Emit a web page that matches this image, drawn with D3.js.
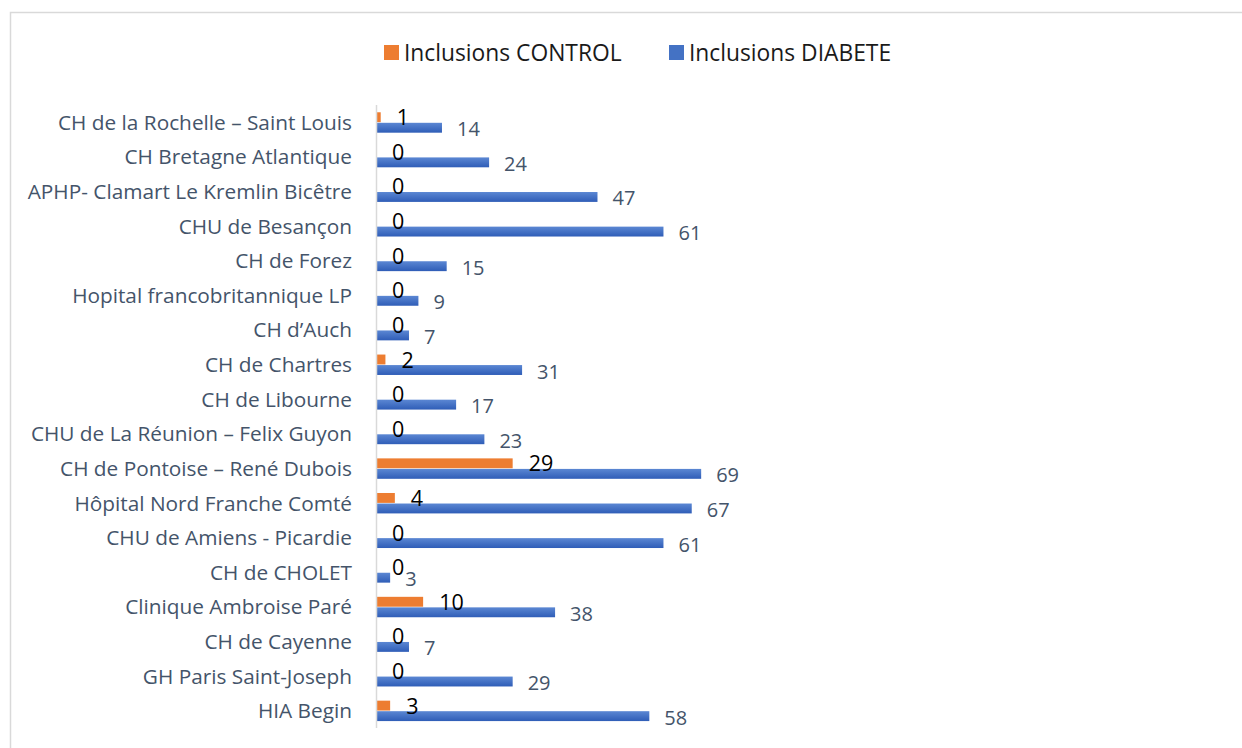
<!DOCTYPE html>
<html lang="fr">
<head>
<meta charset="UTF-8">
<title>Inclusions par centre</title>
<script src="https://d3js.org/d3.v7.min.js"></script>
<style>
  body { margin: 0; background: #fff; }
  svg { display: block; font-family: "Open Sans", "Noto Sans", sans-serif; }
</style>
</head>
<body>
<svg width="1242" height="748"></svg>
<script>
// données, de haut en bas
const centres = [
  "CH de la Rochelle – Saint Louis",
  "CH Bretagne Atlantique",
  "APHP- Clamart Le Kremlin Bicêtre",
  "CHU de Besançon",
  "CH de Forez",
  "Hopital francobritannique LP",
  "CH d’Auch",
  "CH de Chartres",
  "CH de Libourne",
  "CHU de La Réunion – Felix Guyon",
  "CH de Pontoise – René Dubois",
  "Hôpital Nord Franche Comté",
  "CHU de Amiens - Picardie",
  "CH de CHOLET",
  "Clinique Ambroise Paré",
  "CH de Cayenne",
  "GH Paris Saint-Joseph",
  "HIA Begin"
];
const inclusionsControl = [1, 0, 0, 0, 0, 0, 0, 2, 0, 0, 29, 4, 0, 0, 10, 0, 0, 3];
const inclusionsDiabete = [14, 24, 47, 61, 15, 9, 7, 31, 17, 23, 69, 67, 61, 3, 38, 7, 29, 58];
const seriesNames = ["Inclusions CONTROL", "Inclusions DIABETE"];
const seriesColors = ["#ed7d31", "#4472c4"];

const svg = d3.select("svg");

// cadre du graphique (dépasse à droite et en bas)
svg.append("rect")
  .attr("x", 10.5).attr("y", 12.5)
  .attr("width", 1240).attr("height", 740)
  .attr("fill", "none").attr("stroke", "#d9d9d9").attr("stroke-width", 1.5);

const defs = svg.append("defs");
const grad = defs.append("linearGradient")
  .attr("id", "bleu").attr("x1", 0).attr("y1", 0).attr("x2", 0).attr("y2", 1);
grad.append("stop").attr("offset", "0%").attr("stop-color", "#5b87d3");
grad.append("stop").attr("offset", "100%").attr("stop-color", "#2f5db7");

const x0 = 376;
const x = d3.scaleLinear().domain([0, 80]).range([x0, x0 + 377]);
const y = d3.scaleBand().domain(centres).range([105, 728]);
const sub = d3.scaleBand().domain([0, 1])
  .range([y.bandwidth() * 0.21, y.bandwidth() * 0.8]).paddingInner(0.06);

const rows = svg.append("g").selectAll("g")
  .data(centres)
  .join("g")
  .attr("transform", d => `translate(0,${y(d)})`);

// libellés des centres
rows.append("text")
  .attr("x", 352)
  .attr("y", y.bandwidth() / 2 + 7.5)
  .attr("text-anchor", "end")
  .attr("font-size", 20.8)
  .attr("fill", "#44546a")
  .text(d => d);

// barres CONTROL
rows.append("rect")
  .attr("x", x(0))
  .attr("y", sub(0))
  .attr("height", sub.bandwidth())
  .attr("width", (d, i) => x(inclusionsControl[i]) - x(0))
  .attr("fill", seriesColors[0]);

// barres DIABETE
rows.append("rect")
  .attr("x", x(0))
  .attr("y", sub(1))
  .attr("height", sub.bandwidth())
  .attr("width", (d, i) => x(inclusionsDiabete[i]) - x(0))
  .attr("fill", "url(#bleu)");

// étiquettes DIABETE
rows.append("text")
  .attr("x", (d, i) => x(inclusionsDiabete[i]) + 15)
  .attr("y", sub(1) + sub.bandwidth() / 2 + 1.5)
  .attr("dy", "0.35em")
  .attr("font-size", 20)
  .attr("fill", "#44546a")
  .text((d, i) => inclusionsDiabete[i]);

// étiquettes CONTROL
rows.append("text")
  .attr("x", (d, i) => x(inclusionsControl[i]) + 16)
  .attr("y", sub(0) + sub.bandwidth() / 2 + 0.5)
  .attr("dy", "0.35em")
  .attr("font-size", 21.5)
  .attr("fill", "#000")
  .text((d, i) => inclusionsControl[i]);

// axe vertical
svg.append("line")
  .attr("x1", x0 + 0.5).attr("x2", x0 + 0.5)
  .attr("y1", 105).attr("y2", 728)
  .attr("stroke", "#d9d9d9").attr("stroke-width", 1.5);

// légende
const legendX = [384, 669];
const legend = svg.append("g").selectAll("g")
  .data(seriesNames)
  .join("g")
  .attr("transform", (d, i) => `translate(${legendX[i]},45)`);
legend.append("rect")
  .attr("width", 15).attr("height", 15)
  .attr("fill", (d, i) => seriesColors[i]);
legend.append("text")
  .attr("x", 20).attr("y", 15.5)
  .attr("font-size", 22.8)
  .attr("fill", "#1a1a1a")
  .text(d => d);
</script>
</body>
</html>
